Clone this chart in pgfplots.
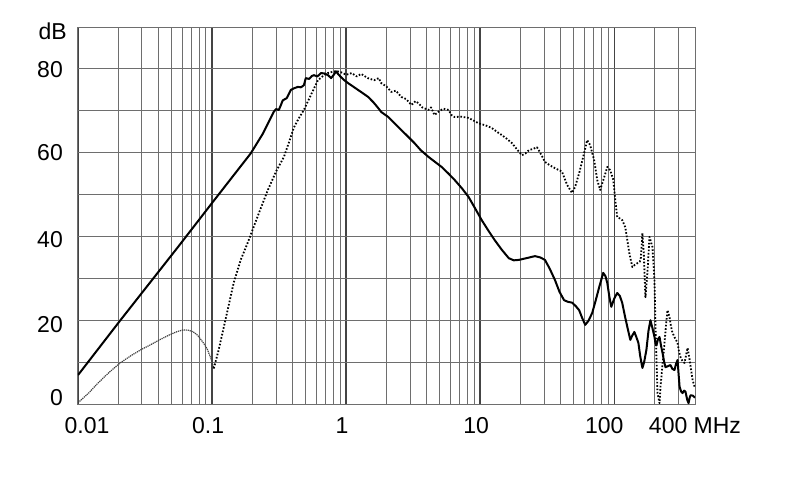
\documentclass[border=0pt]{standalone}
\usepackage{fontspec}
\setmainfont{Liberation Sans}
\usepackage{pgfplots}
\pgfplotsset{compat=1.18}
\definecolor{gridc}{HTML}{6E6E6E}
\definecolor{gridd}{HTML}{444444}
\begin{document}
\begin{tikzpicture}
\useasboundingbox (0,0) rectangle (790pt,499pt);
\begin{axis}[
  at={(78pt,95pt)}, anchor=south west,
  scale only axis, width=617pt, height=377pt,
  xmode=log, xmin=0.01, xmax=400, ymin=0, ymax=90,
  xtick={0.01,0.1,1,10,100},
  xticklabels={\hspace*{18pt}0.01,0.1\hspace*{8pt},1\hspace*{8pt},10\hspace*{8pt},100\hspace*{20pt}},
  extra x ticks={400}, extra x tick labels={400 MHz},
  extra x tick style={grid=none},
  minor xtick={0.02,0.03,0.04,0.05,0.06,0.07,0.08,0.09,0.2,0.3,0.4,0.5,0.6,0.7,0.8,0.9,2,3,4,5,6,7,8,9,20,30,40,50,60,70,80,90,200,300},
  ytick={0,10,20,30,40,50,60,70,80,90},
  yticklabels={\raisebox{7pt}[16pt][0pt]{0},,\raisebox{-4pt}[16pt][0pt]{20},,\raisebox{-3pt}[16pt][0pt]{40},,60,,\raisebox{-1pt}[16pt][0pt]{80},\raisebox{-4pt}[16pt][0pt]{dB}\hspace*{-4pt}},
  grid=both,
  major tick length=0pt, minor tick length=0pt,
  minor grid style={gridc, line width=1.0pt},
  major grid style={gridc, line width=1.0pt},
  major x grid style={gridd, line width=1.5pt},
  axis line style={gridc, line width=1.0pt},
  tick label style={font=\fontsize{23}{27}\selectfont, text=black},
  xticklabel style={inner sep=0pt, yshift=-13pt},
  yticklabel style={inner sep=0pt, xshift=-15pt},
  /pgf/number format/assume math mode=true,
]
% solid curve
\addplot[black, line width=2pt, line join=round] coordinates {
(0.01,6.9) (0.0206,19.9) (0.0564,37.7) (0.1,48.0) (0.194,59.8) (0.24,64.6) (0.289,69.8)
(0.30,70.4) (0.315,70.2) (0.337,72.5) (0.36,73.0) (0.387,75.0) (0.41,75.4) (0.437,75.7)
(0.46,75.6) (0.484,76.1) (0.50,77.8) (0.53,77.6) (0.555,78.3) (0.575,78.5) (0.61,78.2)
(0.65,79.0) (0.69,78.9) (0.733,78.5) (0.772,77.8) (0.80,78.4) (0.842,79.4) (0.88,78.6)
(0.918,78.0) (0.96,77.4) (1.035,76.6) (1.15,75.6) (1.25,74.8) (1.36,74.0) (1.46,73.3)
(1.6,72.0) (1.72,70.8) (1.83,69.7) (2.065,68.5) (2.3,67.0) (2.58,65.4) (2.9,63.8)
(3.23,62.3) (3.6,60.6) (4.11,59.0) (4.6,57.8) (5.15,56.6) (5.8,55.0) (6.44,53.5)
(7.3,51.5) (8.2,49.4) (9.2,46.6) (10.26,43.9) (11.5,41.4) (12.84,39.1) (14.5,36.8)
(16.35,34.8) (17.8,34.3) (19.42,34.4) (22.0,34.8) (25.6,35.3) (28.0,35.0) (30.4,34.4)
(33.0,32.3) (36.1,29.6) (39.0,26.8) (42.2,24.8) (45.0,24.4) (48.4,24.2) (51.5,23.4)
(54.7,22.4) (57.5,20.6) (60.7,18.9) (64.0,19.8) (68.4,21.7) (72.5,24.6) (77.2,27.9)
(82.7,31.3) (86.0,30.5) (88.7,28.9) (92.0,25.5) (95.0,23.2) (100.0,25.2) (105.2,26.5)
(110.0,25.8) (114.7,24.1) (120.0,21.0) (125.1,18.4) (131.7,15.3) (136.0,16.3) (141.2,17.2)
(146.0,16.0) (151.3,14.6) (156.0,11.5) (162.1,8.6) (167.0,10.0) (173.6,12.9) (180.0,17.5)
(186.1,20.0) (193.0,18.0) (199.5,16.0) (203.0,14.5) (206.5,14.0) (212.0,15.5) (217.5,16.0)
(223.0,14.0) (229.0,12.2) (235.0,10.2) (241.0,8.8) (250.0,9.0) (262.5,9.3) (271.0,8.4)
(281.0,8.1) (289.0,9.6) (296.5,10.5) (302.0,7.0) (307.0,4.1) (315.0,3.0) (323.0,2.6)
(332.0,3.2) (340.0,2.9) (350.0,1.0) (358.0,0.2) (365.0,1.5) (371.0,2.1) (385.0,2.0)
(400.0,1.5)
};
% dotted curve, low-frequency part (fine, dense dots)
\addplot[black!75, line width=1.2pt, dash pattern=on 1.2pt off 0.8pt, line join=round] coordinates {
(0.01,0.3) (0.012,2.6) (0.014,4.9) (0.017,7.5) (0.0206,9.8) (0.025,11.6) (0.03,13.1)
(0.0346,14.1) (0.041,15.4) (0.0489,16.6) (0.055,17.3) (0.0611,17.7) (0.067,17.6)
(0.0726,17.2) (0.078,16.4) (0.082,15.5) (0.087,14.4) (0.0924,13.0) (0.099,10.5) (0.103,8.5)
};
% dotted curve, rest
\addplot[black, line width=1.8pt, dash pattern=on 1.6pt off 1.8pt, line join=round] coordinates {
(0.103,8.5) (0.107,10.5) (0.112,12.9)
(0.1306,22.4) (0.1449,28.9) (0.1635,34.4) (0.1845,38.5) (0.22,45.0) (0.26,51.0)
(0.30,55.5) (0.3436,59.0) (0.375,62.5) (0.4074,66.0) (0.44,68.0) (0.484,70.2)
(0.55,74.0) (0.6166,77.3) (0.684,78.5) (0.73,79.0) (0.772,79.2) (0.84,79.5) (0.918,79.2)
(1.0,78.6) (1.1,79.0) (1.2,78.2) (1.295,78.8) (1.45,77.8) (1.62,77.3) (1.75,77.8)
(1.83,76.6) (2.0,75.8) (2.17,74.5) (2.35,74.8) (2.58,73.3) (2.8,72.8) (3.07,71.4)
(3.3,72.3) (3.46,71.8) (3.7,70.8) (4.11,70.2) (4.3,70.8) (4.56,69.0) (4.9,69.8)
(5.3,70.5) (5.81,70.2) (6.1,69.0) (6.44,68.5) (7.2,68.6) (8.2,68.3) (9.0,67.6)
(9.75,67.0) (11.0,66.5) (12.19,65.9) (13.3,65.0) (14.49,64.2) (15.8,63.3) (17.22,62.3)
(18.8,60.8) (20.47,59.4) (21.7,59.8) (23.07,60.6) (24.8,60.9) (26.5,61.3) (27.9,60.1)
(30.4,57.8) (33.0,57.0) (36.1,56.3) (40.7,55.5) (44.5,52.3) (48.4,50.4) (51.0,51.8)
(54.7,55.1) (59.6,59.9) (62.8,63.0) (66.1,61.8) (70.8,58.2) (74.6,53.5) (78.5,51.1)
(84.2,54.2) (88.7,56.6) (93.3,55.8) (98.4,53.5) (101.7,48.7) (105.2,44.6) (110.0,44.3)
(114.7,43.9) (120.8,42.2) (125.1,39.1) (129.5,36.0) (136.4,32.7) (142.0,33.2) (148.6,33.6)
(155.0,34.0) (158.0,35.0) (162.1,40.8) (166.0,36.0) (170.7,25.5) (176.7,31.3) (183.0,39.9)
(192.6,37.5) (199.5,29.6) (203.0,18.4) (206.5,10.5) (210.0,2.6) (217.5,0.2) (221.2,4.1)
(229.0,9.5) (237.0,14.6) (243.0,18.8) (249.5,22.4) (258.0,20.8) (265.0,18.5) (271.6,17.0)
(283.0,15.8) (296.5,14.6) (304.0,12.5) (312.0,11.2) (323.0,10.2) (334.0,9.8) (344.0,11.8)
(352.0,13.4) (365.0,10.5) (384.0,5.7) (400.0,3.8)
};
\end{axis}
\end{tikzpicture}
\end{document}
